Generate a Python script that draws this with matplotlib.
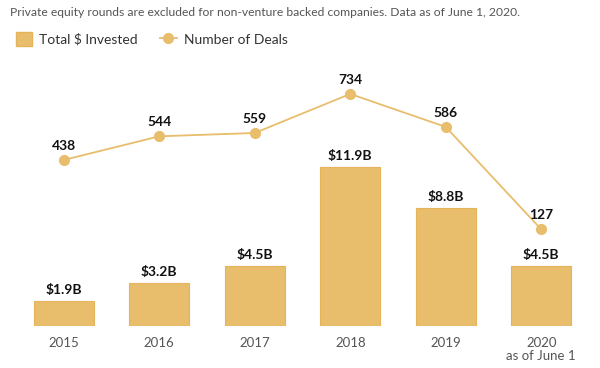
import matplotlib
matplotlib.use("Agg")
import matplotlib.pyplot as plt
from matplotlib.lines import Line2D
from matplotlib.patches import Patch

years = ["2015", "2016", "2017", "2018", "2019", "2020\nas of June 1"]
invested = [1.9, 3.2, 4.5, 11.9, 8.8, 4.5]
invested_labels = ["$1.9B", "$3.2B", "$4.5B", "$11.9B", "$8.8B", "$4.5B"]
deals = [438, 544, 559, 734, 586, 127]

plt.rcParams['font.family'] = ['Lato', 'DejaVu Sans']
gold = "#E8BD6C"
edge = "#E5B45A"

fig = plt.figure(figsize=(6, 3.68), dpi=100)
ax = fig.add_axes([16/600, 42/368, 573/600, 266/368])
x = list(range(len(years)))
ax.bar(x, invested, width=0.63, color=gold, edgecolor=edge, linewidth=0.8, zorder=2)
ax.set_xlim(-0.5, 5.5)
ax.set_ylim(0, 19.85)
for xi, v, lab in zip(x, invested, invested_labels):
    ax.annotate(lab, (xi, v), xytext=(0, 3.5), textcoords="offset points",
                ha="center", va="bottom", fontsize=10, fontweight="bold", color="#111111")
ax.set_xticks(x)
ax.set_xticklabels(years, fontsize=9.5, color="#555555", linespacing=1.1, multialignment="center")
ax.tick_params(axis="x", length=0, pad=8)
ax.set_yticks([])
for s in ax.spines.values():
    s.set_visible(False)

ax2 = ax.twinx()
ax2.plot(x, deals, color=gold, linewidth=1.3, marker="o", markersize=7, zorder=3)
ax2.set_ylim(-306, 886)
ax2.set_yticks([])
for xi, v in zip(x, deals):
    ax2.annotate(str(v), (xi, v), xytext=(0, 6), textcoords="offset points",
                 ha="center", va="bottom", fontsize=10, fontweight="bold", color="#111111")
for s in ax2.spines.values():
    s.set_visible(False)

fig.text(10/600, 1 - 13/368, "Private equity rounds are excluded for non-venture backed companies. Data as of June 1, 2020.",
         fontsize=8.7, color="#555555", va="center", ha="left")

handles = [Patch(facecolor=gold, edgecolor=edge, label="Total $ Invested"),
           Line2D([0], [0], color=gold, marker="o", markersize=7, linewidth=1.3, label="Number of Deals")]
fig.legend(handles=handles, loc="center left", bbox_to_anchor=(3/600, 1 - 39/368), ncol=2, frameon=False,
           fontsize=10, labelcolor="#333333", handlelength=1.2, handleheight=1.2, columnspacing=1.6, handletextpad=0.5)

fig.savefig("out.png", dpi=100)
